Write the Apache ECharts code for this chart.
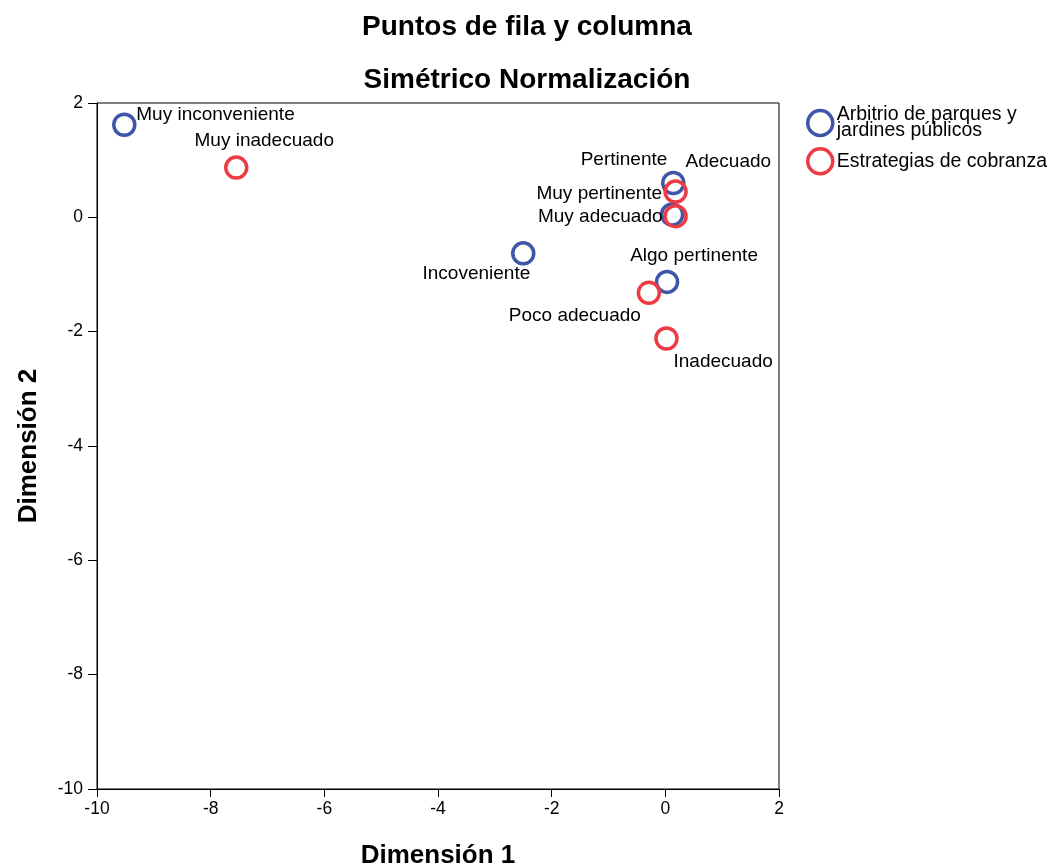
<!DOCTYPE html>
<html>
<head>
<meta charset="utf-8">
<script src="https://cdn.jsdelivr.net/npm/echarts@6/dist/echarts.min.js"></script>
<style>html,body{margin:0;padding:0;background:#fff;}#c{width:1054px;height:867px;}</style>
</head>
<body>
<div id="c"></div>
<script>
const xTicks = [-10, -8, -6, -4, -2, 0, 2];
const yTicks = [2, 0, -2, -4, -6, -8, -10];
const seriesNames = ['Arbitrio de parques y jardines públicos', 'Estrategias de cobranza'];
const legendLabels = ['Arbitrio de parques y\njardines públicos', 'Estrategias de cobranza'];

const blueNames = ['Muy inconveniente', 'Incoveniente', 'Pertinente', 'Muy pertinente', 'Algo pertinente'];
const blueX = [-9.52, -2.50, 0.14, 0.12, 0.03];
const blueY = [1.62, -0.63, 0.60, 0.05, -1.13];

const redNames = ['Muy inadecuado', 'Adecuado', 'Muy adecuado', 'Poco adecuado', 'Inadecuado'];
const redX = [-7.55, 0.18, 0.18, -0.29, 0.02];
const redY = [0.87, 0.45, 0.02, -1.32, -2.12];

// label placement (screen px offsets from marker centre)
const labelPlace = {
  'Muy inconveniente': {align: 'left', offset: [12, -10]},
  'Muy inadecuado': {align: 'center', offset: [28, -27]},
  'Pertinente': {align: 'right', offset: [-6, -23]},
  'Adecuado': {align: 'left', offset: [10, -30]},
  'Muy pertinente': {align: 'right', offset: [-10, -21]},
  'Muy adecuado': {align: 'right', offset: [-13, 1]},
  'Incoveniente': {align: 'right', offset: [7, 20]},
  'Algo pertinente': {align: 'center', offset: [27, -26]},
  'Poco adecuado': {align: 'right', offset: [-8, 23]},
  'Inadecuado': {align: 'left', offset: [7, 23]}
};

const font = 'Liberation Sans';

function build(names, xs, ys) {
  return names.map((n, i) => ({
    name: n,
    value: [xs[i], ys[i]],
    label: {
      show: true,
      position: 'inside',
      formatter: n,
      align: labelPlace[n].align,
      verticalAlign: 'middle',
      offset: labelPlace[n].offset,
      color: '#000',
      fontSize: 19,
      fontFamily: font
    }
  }));
}

const colors = ['#3f55a8', '#ee3b43'];
const chart = echarts.init(document.getElementById('c'));
chart.setOption({
  animation: false,
  backgroundColor: '#fff',
  title: [
    {text: 'Puntos de fila y columna', left: 522, top: 8, textAlign: 'center',
     textStyle: {fontFamily: font, fontSize: 28, fontWeight: 'bold', color: '#000'}},
    {text: 'Simétrico Normalización', left: 522, top: 61, textAlign: 'center',
     textStyle: {fontFamily: font, fontSize: 28, fontWeight: 'bold', color: '#000'}}
  ],
  legend: {
    orient: 'vertical',
    left: 801,
    top: 100,
    itemWidth: 25,
    itemHeight: 25,
    itemGap: 6,
    data: seriesNames.map((n) => ({name: n, icon: 'circle'})),
    formatter: (n) => legendLabels[seriesNames.indexOf(n)],
    itemStyle: {borderWidth: 3.5},
    textStyle: {fontFamily: font, fontSize: 19.5, color: '#000', lineHeight: 16, padding: [3, 0, 0, -1]}
  },
  grid: {left: 97, right: 275, top: 103, bottom: 78, outerBoundsMode: 'none',
    show: true, borderColor: '#000', borderWidth: 1},
  xAxis: {
    type: 'value', min: -10, max: 2, interval: 2,
    name: 'Dimensión 1', nameLocation: 'middle', nameGap: 54,
    nameTextStyle: {fontFamily: font, fontSize: 26, fontWeight: 'bold', color: '#000'},
    axisLine: {show: true, onZero: false, lineStyle: {color: '#000', width: 1}},
    axisTick: {show: true, length: 8, lineStyle: {color: '#000'}},
    axisLabel: {fontFamily: font, fontSize: 17.5, color: '#000', margin: 11},
    splitLine: {show: false}
  },
  yAxis: {
    type: 'value', min: -10, max: 2, interval: 2,
    name: 'Dimensión 2', nameLocation: 'middle', nameGap: 55,
    nameTextStyle: {fontFamily: font, fontSize: 26, fontWeight: 'bold', color: '#000'},
    axisLine: {show: true, onZero: false, lineStyle: {color: '#000', width: 1}},
    axisTick: {show: true, length: 9, lineStyle: {color: '#000'}},
    axisLabel: {fontFamily: font, fontSize: 17.5, color: '#000', margin: 14},
    splitLine: {show: false}
  },
  series: [
    {
      name: seriesNames[0], type: 'scatter', symbol: 'circle', symbolSize: 21,
      itemStyle: {color: 'rgba(255,255,255,0)', borderColor: colors[0], borderWidth: 3.5, opacity: 1},
      data: build(blueNames, blueX, blueY), z: 2
    },
    {
      name: seriesNames[1], type: 'scatter', symbol: 'circle', symbolSize: 21,
      itemStyle: {color: 'rgba(255,255,255,0)', borderColor: colors[1], borderWidth: 3.5, opacity: 1},
      data: build(redNames, redX, redY), z: 3
    }
  ]
});
</script>
</body>
</html>
